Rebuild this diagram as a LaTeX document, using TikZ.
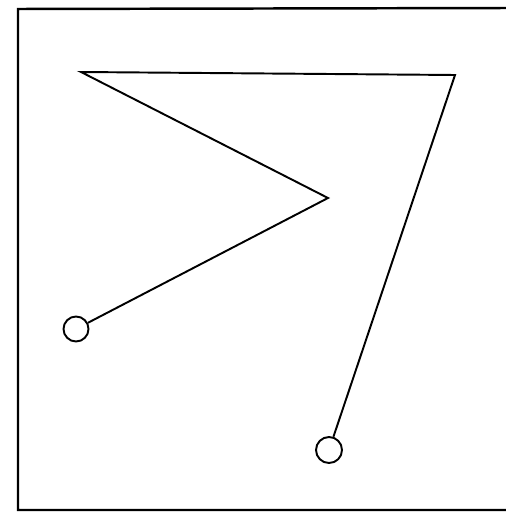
\documentclass[tikz,border=0pt]{standalone}
\begin{document}
\begin{tikzpicture}[x=0.02cm,y=-0.02cm,line width=1.1pt]

\useasboundingbox (0,0) rectangle (506,513);

%%%%%%%%%%%%%%%%%%%%%%%%%%%%%%%%%%%%%%%%%%%%%%%%%%%%%%%%%%%%%%
% FRAME
%%%%%%%%%%%%%%%%%%%%%%%%%%%%%%%%%%%%%%%%%%%%%%%%%%%%%%%%%%%%%%

\draw[line width=1.4pt] (512,8) -- (18,9) -- (18,510) -- (512,510);

%%%%%%%%%%%%%%%%%%%%%%%%%%%%%%%%%%%%%%%%%%%%%%%%%%%%%%%%%%%%%%
% END POINTS
%%%%%%%%%%%%%%%%%%%%%%%%%%%%%%%%%%%%%%%%%%%%%%%%%%%%%%%%%%%%%%

\node[
draw,
circle,
inner sep=0pt,
minimum size=0.5cm
](start)
at (76,329)
{};

\node[
draw,
circle,
inner sep=0pt,
minimum size=0.52cm
](finish)
at (329,450)
{};

%%%%%%%%%%%%%%%%%%%%%%%%%%%%%%%%%%%%%%%%%%%%%%%%%%%%%%%%%%%%%%
% CORNERS
%%%%%%%%%%%%%%%%%%%%%%%%%%%%%%%%%%%%%%%%%%%%%%%%%%%%%%%%%%%%%%

\coordinate (apex) at (328,198);
\coordinate (topleft) at (81,72);
\coordinate (topright) at (455,75);

%%%%%%%%%%%%%%%%%%%%%%%%%%%%%%%%%%%%%%%%%%%%%%%%%%%%%%%%%%%%%%
% PATH
%%%%%%%%%%%%%%%%%%%%%%%%%%%%%%%%%%%%%%%%%%%%%%%%%%%%%%%%%%%%%%

\draw (start)--(apex)--(topleft)--(topright)--(finish);

\end{tikzpicture}
\end{document}
